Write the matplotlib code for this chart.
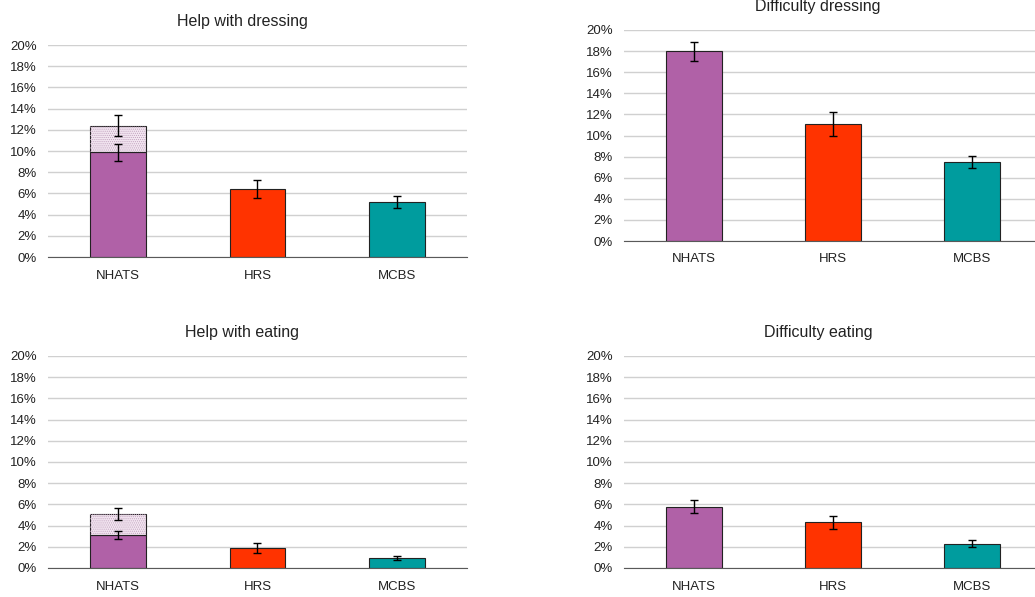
import numpy as np
import matplotlib.pyplot as plt

plt.rcParams['font.family'] = ['Liberation Sans', 'DejaVu Sans']
plt.rcParams['hatch.linewidth'] = 0.5

surveys = ['NHATS', 'HRS', 'MCBS']
colors = ['#B061A7', '#FF3300', '#009C9E']

# valores (%)
help_dress = [9.9, 6.4, 5.2]
help_dress_err = [0.8, 0.85, 0.55]
help_dress_total = 12.4
help_dress_total_err = 1.0

diff_dress = [18.0, 11.1, 7.5]
diff_dress_err = [0.9, 1.1, 0.6]

help_eat = [3.1, 1.9, 0.95]
help_eat_err = [0.4, 0.5, 0.2]
help_eat_total = 5.1
help_eat_total_err = 0.6

diff_eat = [5.8, 4.3, 2.3]
diff_eat_err = [0.6, 0.6, 0.35]

W, H = 1035, 597
fig = plt.figure(figsize=(W / 100, H / 100), dpi=100)


def make_ax(left, right, top, bottom):
    return fig.add_axes([left / W, 1 - bottom / H, (right - left) / W, (bottom - top) / H])


def draw(ax, title, vals, errs, total=None, total_err=None):
    x = np.arange(len(surveys))
    ax.bar(x, vals, width=0.4, color=colors, edgecolor='#222222', linewidth=0.8, zorder=3)
    if total is not None:
        # parte punteada encima de la barra NHATS
        ax.bar(x[0], total - vals[0], bottom=vals[0], width=0.4, color='#F3E6F1',
               edgecolor='#222222', linewidth=0.8, zorder=3)
        ax.bar(x[0], total - vals[0], bottom=vals[0], width=0.4, color='none',
               edgecolor='#BFA0BC', linewidth=0, hatch='........', zorder=3.5)
        ax.errorbar(x[0], total, yerr=total_err, fmt='none', ecolor='black',
                    elinewidth=1, capsize=3, capthick=1, zorder=4)
    ax.errorbar(x, vals, yerr=errs, fmt='none', ecolor='black',
                elinewidth=1, capsize=3, capthick=1, zorder=4)
    ax.set_xlim(-0.5, 2.5)
    ax.set_ylim(0, 20)
    ax.set_yticks(np.arange(0, 21, 2))
    ax.set_yticklabels([f'{v}%' for v in range(0, 21, 2)])
    ax.set_xticks(x)
    ax.set_xticklabels(surveys)
    ax.grid(axis='y', color='#D0D0D0', linewidth=1, zorder=0)
    for s in ['left', 'right', 'top']:
        ax.spines[s].set_visible(False)
    ax.spines['bottom'].set_color('#595959')
    ax.spines['bottom'].set_zorder(5)
    ax.tick_params(length=0, labelsize=9.5, colors='#222222')
    ax.tick_params(axis='x', pad=9)
    ax.tick_params(axis='y', pad=8)
    ax.set_title(title, fontsize=11.5, pad=14, color='#222222', x=0.464)


ax1 = make_ax(48, 467, 45, 257)
draw(ax1, 'Help with dressing', help_dress, help_dress_err, help_dress_total, help_dress_total_err)

ax2 = make_ax(624, 1042, 30, 241)
draw(ax2, 'Difficulty dressing', diff_dress, diff_dress_err)

ax3 = make_ax(48, 467, 356, 568)
draw(ax3, 'Help with eating', help_eat, help_eat_err, help_eat_total, help_eat_total_err)

ax4 = make_ax(624, 1042, 356, 568)
draw(ax4, 'Difficulty eating', diff_eat, diff_eat_err)

fig.savefig('out.png', dpi=100)
